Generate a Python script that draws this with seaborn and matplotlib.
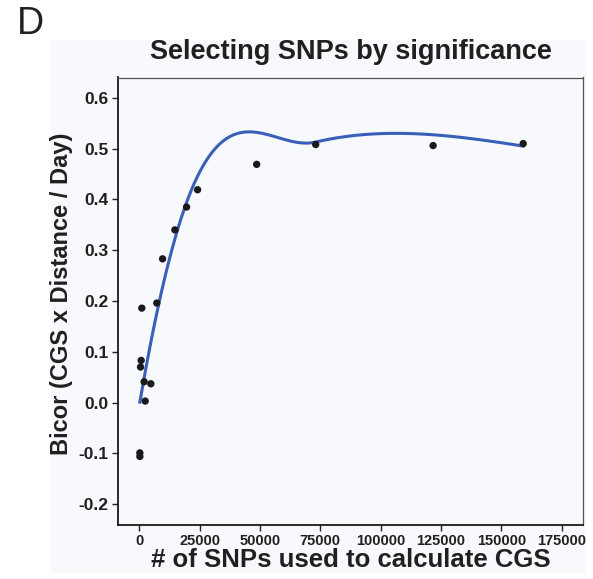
import numpy as np
import pandas as pd
import matplotlib
matplotlib.use("Agg")
import matplotlib.pyplot as plt
from matplotlib.patches import Rectangle
import seaborn as sns

# Data
n_snps = [300, 300, 580, 830, 1100, 2070, 2500, 4850, 7300, 9700, 14800,
          19640, 24200, 48650, 73100, 121700, 159000]
bicor = [-0.099, -0.106, 0.070, 0.083, 0.186, 0.041, 0.003, 0.037, 0.196,
         0.283, 0.340, 0.385, 0.419, 0.469, 0.508, 0.506, 0.510]
x_ticks = [0, 25000, 50000, 75000, 100000, 125000, 150000, 175000]
y_ticks = [-0.2, -0.1, 0.0, 0.1, 0.2, 0.3, 0.4, 0.5, 0.6]

df = pd.DataFrame({"snps": n_snps, "bicor": bicor})


def local_fit(x, y, x0, q, degree=2, f=0.75):
    d = np.abs(x - x0)
    h = np.sort(d)[q - 1] * max(1.0, f)
    w = np.clip(1 - (d / h) ** 3, 0, None) ** 3
    X = np.vander(x - x0, degree + 1, increasing=True)
    W = np.sqrt(w)
    beta, *_ = np.linalg.lstsq(X * W[:, None], y * W, rcond=None)
    return beta[0], beta[1]


def loess_interp(x, y, xs, span=0.9, degree=2, cell=0.2):
    """1-D loess smoother (kd-tree vertices + cubic Hermite interpolation)."""
    x = np.asarray(x, float); y = np.asarray(y, float)
    xsrt = np.sort(x)
    n = len(x); q = min(n, int(np.floor(n * span)))
    fc = int(np.floor(n * span * cell))
    margin = 0.005 * (xsrt[-1] - xsrt[0])
    verts = {xsrt[0] - margin, xsrt[-1] + margin}

    def split(lo, hi, vlo, vhi):
        if hi - lo + 1 <= fc:
            return
        m = (lo + hi) // 2
        while m > lo and xsrt[m - 1] == xsrt[m]:
            m -= 1
        v = xsrt[m]
        if v == vlo or v == vhi:
            return
        verts.add(v)
        split(lo, m, vlo, v)
        split(m + 1, hi, v, vhi)

    split(0, n - 1, xsrt[0] - margin, xsrt[-1] + margin)
    vx = np.array(sorted(verts))
    vals = np.array([local_fit(x, y, v, q, degree, span) for v in vx])
    f, dfv = vals[:, 0], vals[:, 1]
    out = []
    for t in xs:
        i = np.clip(np.searchsorted(vx, t) - 1, 0, len(vx) - 2)
        x0, x1 = vx[i], vx[i + 1]
        hh = x1 - x0
        s = (t - x0) / hh
        out.append((2*s**3-3*s**2+1)*f[i] + (s**3-2*s**2+s)*hh*dfv[i]
                   + (-2*s**3+3*s**2)*f[i+1] + (s**3-s**2)*hh*dfv[i+1])
    return np.array(out)


xs = np.linspace(min(n_snps), max(n_snps), 120)
smooth = pd.DataFrame({"snps": xs, "bicor": loess_interp(n_snps, bicor, xs)})

ink = "#231f20"
plt.rcParams["font.family"] = ["Liberation Sans", "DejaVu Sans"]

fig = plt.figure(figsize=(5.93, 5.79), dpi=100)
fig.patch.set_facecolor("white")
bg = Rectangle((51 / 593, 1 - 573 / 579), (586 - 51) / 593, (573 - 40) / 579,
               transform=fig.transFigure, facecolor="#f8f9fc",
               edgecolor="none", zorder=-10)
fig.add_artist(bg)
ax = fig.add_axes([118 / 593, 1 - 524.5 / 579, (583 - 118) / 593, (524.5 - 77.5) / 579])
ax.set_zorder(1)
ax.set_facecolor("#f8f9fc")

sns.scatterplot(data=df, x="snps", y="bicor", ax=ax, color="#1a1a1a",
                s=28, edgecolor="none", zorder=3)
sns.lineplot(data=smooth, x="snps", y="bicor", ax=ax, color="#3a5fb8",
             linewidth=2.2, zorder=2)

ax.set_xlim(-8750, 183750)
ax.set_ylim(-0.24, 0.64)
ax.set_xticks(x_ticks)
ax.set_xticklabels([str(t) for t in x_ticks])
ax.set_yticks(y_ticks)
ax.set_yticklabels([f"{t:.1f}" for t in y_ticks])
ax.tick_params(axis="both", colors=ink, length=4, width=1)
ax.tick_params(axis="x", labelsize=10.5, pad=3)
ax.tick_params(axis="y", labelsize=12.5, pad=3)
for lab in ax.get_xticklabels() + ax.get_yticklabels():
    lab.set_fontweight("bold")
    lab.set_color(ink)

for side in ["left", "bottom"]:
    ax.spines[side].set_color("#1a1a1a")
    ax.spines[side].set_linewidth(1.3)
for side in ["top", "right"]:
    ax.spines[side].set_color("#555555")
    ax.spines[side].set_linewidth(0.9)

ax.set_xlabel("# of SNPs used to calculate CGS", fontsize=18.5, fontweight="bold",
              color=ink)
ax.set_ylabel("Bicor (CGS x Distance / Day)", fontsize=17, fontweight="bold",
              color=ink)
ax.xaxis.set_label_coords(0.5, -(560 - 524.5) / (524.5 - 77.5), transform=ax.transAxes)
ax.xaxis.label.set_va("center")
ax.yaxis.set_label_coords(-(118 - 62) / (583 - 118), (524.5 - 294) / (524.5 - 77.5),
                          transform=ax.transAxes)
ax.yaxis.label.set_va("center")
fig.text(350.5 / 593, 1 - 52 / 579, "Selecting SNPs by significance", fontsize=19.5,
         fontweight="bold", color=ink, ha="center", va="center")

fig.text(30 / 593, 1 - 24 / 579, "D", fontsize=27, color=ink, va="center", ha="center")

fig.savefig("out.png", dpi=100, facecolor=fig.get_facecolor())
